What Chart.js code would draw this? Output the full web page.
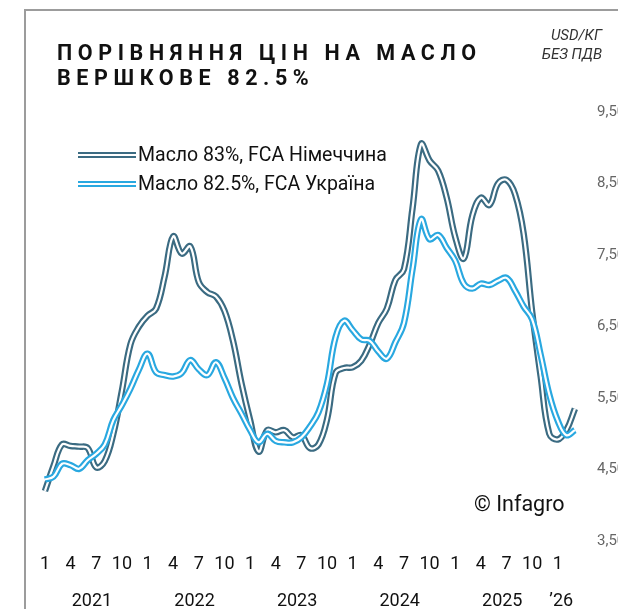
<!DOCTYPE html>
<html>
<head>
<meta charset="utf-8">
<script src="https://cdn.jsdelivr.net/npm/chart.js@4"></script>
<style>
  body { margin: 0; background: #fff; font-family: Roboto, sans-serif; }
  #wrap { position: relative; width: 618px; height: 609px; overflow: hidden; }
  #chart { position: absolute; left: 0; top: 0; }
  .frame { position: absolute; left: 24px; top: 9px; width: 600px; height: 610px;
           border-left: 2px solid #9c9c9c; border-top: 2px solid #9c9c9c; }
  .title { position: absolute; left: 57px; top: 40px; font-size: 21.5px; font-weight: bold;
           letter-spacing: 5.6px; line-height: 25px; color: #111; }
  .unit { position: absolute; right: 16px; top: 26px; font-size: 15px; font-style: italic;
          line-height: 19px; color: #333; text-align: right; }
  .legend { position: absolute; left: 78px; top: 140px; font-size: 19.5px; color: #111; }
  .legend div { height: 29px; line-height: 29px; white-space: nowrap; }
  .legend span.sw { display: inline-block; width: 58px; height: 2px; background: #fff;
                    vertical-align: middle; margin-right: 2px; position: relative; top: -1px; }
  .copy { position: absolute; left: 474px; top: 491px; font-size: 21.5px; color: #111; }
</style>
</head>
<body>
<div id="wrap">
  <canvas id="chart" width="618" height="609"></canvas>
  <div class="frame"></div>
  <div class="title">ПОРІВНЯННЯ ЦІН НА МАСЛО<br>ВЕРШКОВЕ 82.5%</div>
  <div class="unit">USD/КГ<br>БЕЗ ПДВ</div>
  <div class="legend">
    <div><span class="sw" style="border-top:2px solid #3b6b82;border-bottom:2px solid #3b6b82"></span>Масло 83%, FCA Німеччина</div>
    <div><span class="sw" style="border-top:2px solid #29a8e0;border-bottom:2px solid #29a8e0"></span>Масло 82.5%, FCA Україна</div>
  </div>
  <div class="copy">© Infagro</div>
</div>
<script>
document.addEventListener('DOMContentLoaded', function() {
    // monthly values, Jan 2021 .. Mar 2026 (index 0 = Jan 2021)
    const germany = [
        4.20, 4.55, 4.85, 4.83, 4.82, 4.80, 4.53, 4.62, 5.00, 5.60, 6.25, 6.50,
        6.65, 6.75, 7.20, 7.76, 7.52, 7.62, 7.12, 6.98, 6.92, 6.72, 6.30, 5.70,
        5.19, 4.75, 5.05, 5.02, 5.05, 4.95, 4.98, 4.80, 4.85, 5.20, 5.85, 5.92,
        5.93, 6.02, 6.25, 6.55, 6.75, 7.15, 7.30, 8.15, 9.05, 8.82, 8.68, 8.30,
        7.75, 7.45, 8.05, 8.30, 8.20, 8.50, 8.55, 8.35, 7.80, 6.70, 5.80, 5.00,
        4.92, 5.05, 5.35
    ];
    const ukraine = [
        4.36, 4.40, 4.58, 4.56, 4.51, 4.63, 4.72, 4.85, 5.19, 5.40, 5.63, 5.90,
        6.12, 5.86, 5.82, 5.80, 5.85, 6.03, 5.90, 5.82, 6.00, 5.78, 5.50, 5.28,
        5.05, 4.88, 5.00, 4.90, 4.88, 4.88, 4.95, 5.10, 5.30, 5.70, 6.35, 6.58,
        6.45, 6.32, 6.30, 6.15, 6.05, 6.28, 6.55, 7.30, 8.00, 7.72, 7.78, 7.60,
        7.42, 7.10, 7.03, 7.10, 7.08, 7.14, 7.18, 7.00, 6.78, 6.60, 6.10, 5.55,
        5.18, 4.98, 5.05
    ];
    const tickMonths = [1, 4, 7, 10];
    const yearLabels = ['2021', '2022', '2023', '2024', '2025', '’26'];
    const yearPos = [5.5, 17.5, 29.5, 41.5, 53.5, 60.4];
    const yTicks = [3.5, 4.5, 5.5, 6.5, 7.5, 8.5, 9.5];

    const darkColor = '#3b6b82';
    const blueColor = '#29a8e0';

    const toPoints = arr => arr.map((v, i) => ({ x: i, y: v }));
    const monthTickValues = [];
    for (let i = 0; i <= 60; i += 3) monthTickValues.push(i);

    function lineSet(data, color, width, order) {
        return {
            data: toPoints(data),
            borderColor: color,
            borderWidth: width,
            pointRadius: 0,
            tension: 0.4,
            fill: false,
            order: order,
            borderCapStyle: 'butt'
        };
    }

    const ctx = document.getElementById('chart').getContext('2d');
    new Chart(ctx, {
        type: 'line',
        data: {
            datasets: [
                lineSet(germany, darkColor, 6.5, 4),
                lineSet(germany, '#ffffff', 2.2, 3),
                lineSet(ukraine, blueColor, 6.5, 2),
                lineSet(ukraine, '#ffffff', 2.2, 1)
            ]
        },
        options: {
            responsive: false,
            animation: false,
            layout: { padding: { left: 30, top: 112, right: 0, bottom: 0 } },
            plugins: { legend: { display: false }, tooltip: { enabled: false } },
            scales: {
                x: {
                    type: 'linear',
                    position: 'bottom',
                    weight: 1,
                    min: -1.75,
                    max: 64,
                    grid: { display: false, drawTicks: false },
                    border: { display: false },
                    afterBuildTicks: s => { s.ticks = monthTickValues.map(v => ({ value: v })); },
                    afterFit: s => { s.height = 36; },
                    ticks: {
                        autoSkip: false, maxRotation: 0, padding: 13,
                        color: '#111', font: { family: 'Roboto', size: 18 },
                        callback: v => String(tickMonths[(v / 3) % 4])
                    }
                },
                years: {
                    type: 'linear',
                    position: 'bottom',
                    weight: 2,
                    min: -1.75,
                    max: 64,
                    grid: { display: false, drawTicks: false },
                    border: { display: false },
                    afterBuildTicks: s => { s.ticks = yearPos.map(v => ({ value: v })); },
                    afterFit: s => { s.height = 32; },
                    ticks: {
                        autoSkip: false, maxRotation: 0, padding: 14,
                        color: '#111', font: { family: 'Roboto', size: 18 },
                        callback: v => yearLabels[yearPos.indexOf(v)]
                    }
                },
                y: {
                    position: 'right',
                    min: 3.5,
                    max: 9.5,
                    grid: { display: false, drawTicks: false },
                    border: { display: false },
                    afterBuildTicks: s => { s.ticks = yTicks.map(v => ({ value: v })); },
                    afterFit: s => { s.width = 26; },
                    ticks: {
                        padding: 5,
                        color: '#666', font: { family: 'Roboto', size: 15 },
                        callback: v => v.toFixed(2).replace('.', ',')
                    }
                }
            }
        }
    });
});
</script>
</body>
</html>
